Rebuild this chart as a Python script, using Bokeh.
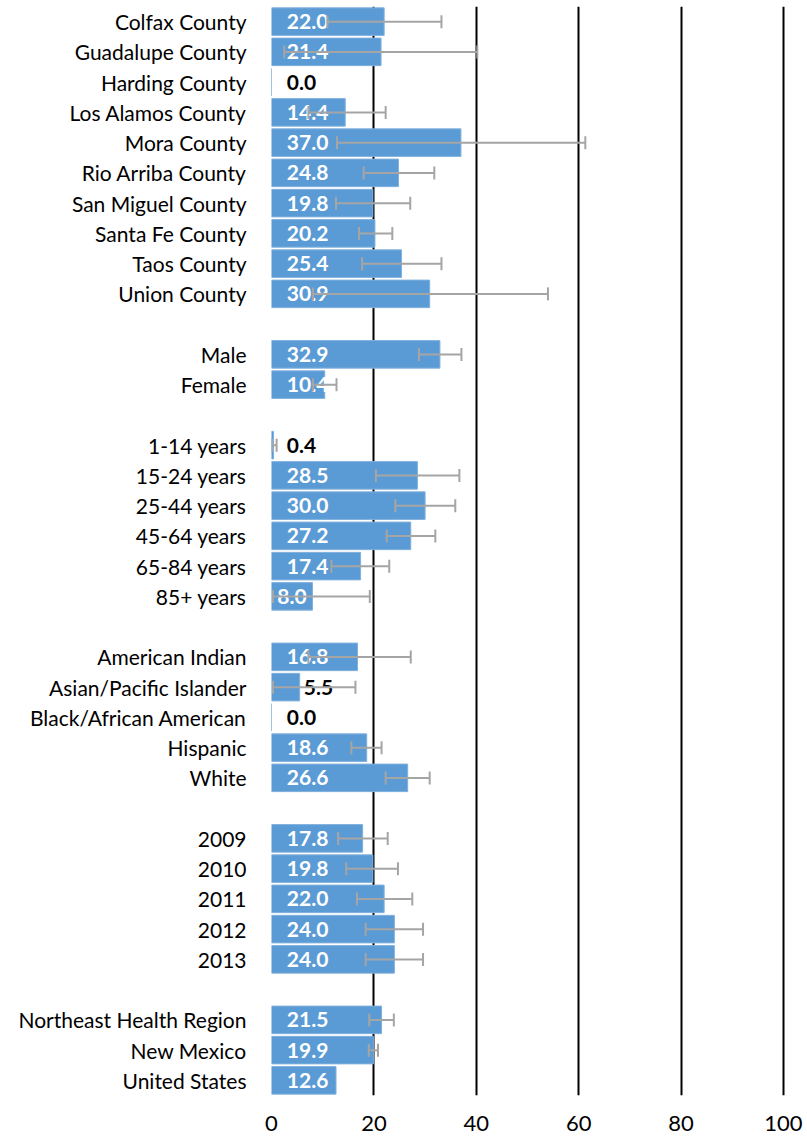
from bokeh.plotting import figure
from bokeh.models import Range1d, FixedTicker, ColumnDataSource, Whisker, TeeHead
from bokeh.core.properties import value
from bokeh.embed import file_html
from bokeh.resources import INLINE

# groups of categories (a blank row separates groups)
counties = ["Colfax County", "Guadalupe County", "Harding County", "Los Alamos County",
            "Mora County", "Rio Arriba County", "San Miguel County", "Santa Fe County",
            "Taos County", "Union County"]
county_vals = [22.0, 21.4, 0.0, 14.4, 37.0, 24.8, 19.8, 20.2, 25.4, 30.9]
county_lo = [10.9, 2.5, None, 7.2, 12.8, 18.0, 12.6, 17.1, 17.7, 8.1]
county_hi = [33.2, 40.2, None, 22.3, 61.3, 31.8, 27.1, 23.6, 33.2, 54.0]

sexes = ["Male", "Female"]
sex_vals = [32.9, 10.4]
sex_lo = [28.8, 8.1]
sex_hi = [37.1, 12.7]

ages = ["1-14 years", "15-24 years", "25-44 years", "45-64 years", "65-84 years", "85+ years"]
age_vals = [0.4, 28.5, 30.0, 27.2, 17.4, 8.0]
age_lo = [0.1, 20.4, 24.2, 22.5, 11.7, 0.3]
age_hi = [1.0, 36.7, 35.9, 32.0, 23.0, 19.2]

races = ["American Indian", "Asian/Pacific Islander", "Black/African American", "Hispanic", "White"]
race_vals = [16.8, 5.5, 0.0, 18.6, 26.6]
race_lo = [7.2, 0.3, None, 15.6, 22.3]
race_hi = [27.2, 16.4, None, 21.5, 30.9]

years = ["2009", "2010", "2011", "2012", "2013"]
year_vals = [17.8, 19.8, 22.0, 24.0, 24.0]
year_lo = [13.0, 14.6, 16.7, 18.4, 18.4]
year_hi = [22.7, 24.7, 27.5, 29.6, 29.6]

regions = ["Northeast Health Region", "New Mexico", "United States"]
region_vals = [21.5, 19.9, 12.6]
region_lo = [19.1, 19.0, None]
region_hi = [23.9, 20.8, None]

x_ticks = [0, 20, 40, 60, 80, 100]

groups = [(counties, county_vals, county_lo, county_hi),
          (sexes, sex_vals, sex_lo, sex_hi),
          (ages, age_vals, age_lo, age_hi),
          (races, race_vals, race_lo, race_hi),
          (years, year_vals, year_lo, year_hi),
          (regions, region_vals, region_lo, region_hi)]

labels, vals, los, his = [], [], [], []
for gi, (c, v, lo, hi) in enumerate(groups):
    if gi > 0:
        labels.append(""); vals.append(None); los.append(None); his.append(None)
    labels += c; vals += v; los += lo; his += hi

n = len(labels)
ys = [-i for i in range(n)]

bar = dict(y=[], v=[])
err = dict(y=[], lo=[], hi=[])
wl = dict(x=[], y=[], t=[])   # white labels, left
wc = dict(x=[], y=[], t=[])   # white labels, centered
bl = dict(x=[], y=[], t=[])   # black labels
for y, v, lo, hi in zip(ys, vals, los, his):
    if v is None:
        continue
    bar["y"].append(y); bar["v"].append(v)
    if lo is not None:
        err["y"].append(y); err["lo"].append(lo); err["hi"].append(hi)
    t = f"{v:.1f}"
    if v >= 10:
        wl["x"].append(3); wl["y"].append(y); wl["t"].append(t)
    elif v >= 7:
        wc["x"].append(v / 2); wc["y"].append(y); wc["t"].append(t)
    else:
        bl["x"].append(max(v + 0.8, 3)); bl["y"].append(y); bl["t"].append(t)

p = figure(width=807, height=1137, output_backend="svg", toolbar_location=None,
           x_range=Range1d(0, 100.4), y_range=Range1d(-35.5, 0.5),
           min_border_left=271, min_border_right=22, min_border_top=6, min_border_bottom=42)
p.outline_line_color = None
p.background_fill_color = "white"

p.hbar(y="y", right="v", left=0, height=0.91, source=ColumnDataSource(bar),
       fill_color="#5B9BD5", line_color="#7FB0DE", line_width=1)

lbl = dict(text_font=value("Lato"), text_font_style="bold", text_font_size="21px",
           text_baseline="middle")
p.text(x="x", y="y", text="t", source=ColumnDataSource(wl), text_color="white",
       text_align="left", **lbl)
p.text(x="x", y="y", text="t", source=ColumnDataSource(wc), text_color="white",
       text_align="center", **lbl)
p.text(x="x", y="y", text="t", source=ColumnDataSource(bl), text_color="black",
       text_align="left", **lbl)

w = Whisker(base="y", lower="lo", upper="hi", dimension="width", level="overlay",
            source=ColumnDataSource(err), line_color="#A5A5A5", line_width=2,
            upper_head=TeeHead(size=13, line_color="#A5A5A5", line_width=2),
            lower_head=TeeHead(size=13, line_color="#A5A5A5", line_width=2))
p.add_layout(w)

p.xaxis.ticker = FixedTicker(ticks=x_ticks)
p.xaxis.axis_line_color = None
p.xaxis.major_tick_line_color = None
p.xaxis.minor_tick_line_color = None
p.xaxis.major_label_standoff = 14
p.xaxis.major_label_text_font = "Lato"
p.xaxis.major_label_text_font_size = "22px"
p.xaxis.major_label_text_color = "black"

p.yaxis.ticker = FixedTicker(ticks=ys)
p.yaxis.major_label_overrides = {y: l for y, l in zip(ys, labels)}
p.yaxis.axis_line_color = None
p.yaxis.major_tick_line_color = None
p.yaxis.minor_tick_line_color = None
p.yaxis.major_label_standoff = 19
p.yaxis.major_label_text_font = "Lato"
p.yaxis.major_label_text_font_size = "21px"
p.yaxis.major_label_text_color = "black"

p.ygrid.grid_line_color = None
p.xgrid.grid_line_color = "black"
p.xgrid.grid_line_width = 2

open("out.html", "w").write(file_html(p, INLINE))
